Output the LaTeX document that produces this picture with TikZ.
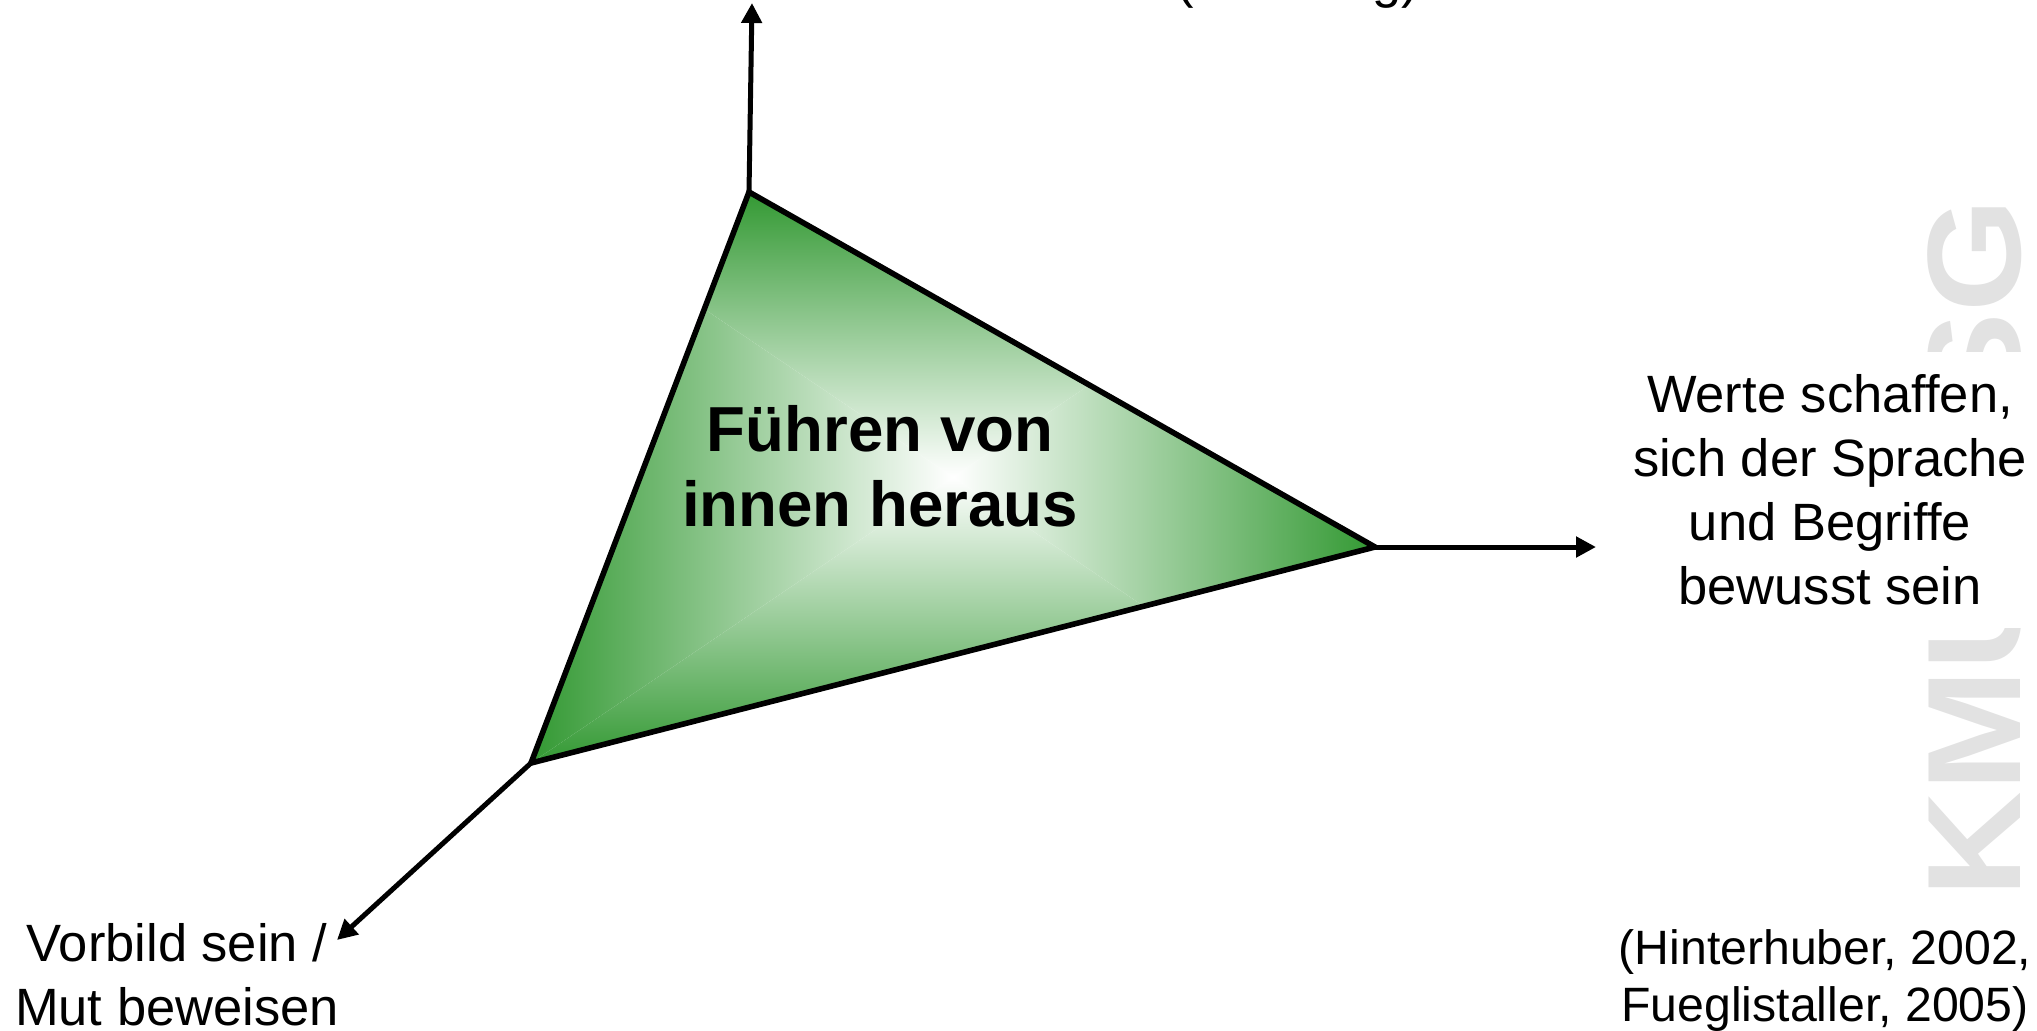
\documentclass[tikz,border=0pt]{standalone}
\usepackage{fontspec}
\setmainfont{Liberation Sans}
\usetikzlibrary{arrows.meta}
\definecolor{tgreen}{RGB}{51,153,51}
\definecolor{wmgray}{RGB}{226,226,226}
\colorlet{tmid}{tgreen!58!white}
\begin{document}
\begin{tikzpicture}[x=0.5pt,y=-0.5pt,
  axisarrow/.style={line width=2.5pt,-{Triangle[length=10pt,width=10pt]}},
  lbl/.style={align=center,inner sep=0pt,anchor=base,font=\fontsize{26.25}{31.85}\selectfont},
  cite/.style={align=center,inner sep=0pt,anchor=base,font=\fontsize{24.1}{28.5}\selectfont},
  title/.style={align=center,inner sep=0pt,anchor=base,font=\bfseries\fontsize{31.8}{37.5}\selectfont},
  wm/.style={inner sep=0pt,anchor=base west,rotate=90,text=wmgray,font=\bfseries\fontsize{66.5}{70}\selectfont}]
\useasboundingbox (0,0) rectangle (2037,1030);
% watermark
\node[wm] (wmark) at (2020,898) {\scalebox{1.1}[1]{KMU-HSG}};
\fill[white] (1600,352) rectangle (2037,628);
% vertices
\coordinate (T) at (749,192);
\coordinate (R) at (1375,547);
\coordinate (L) at (531,763);
\coordinate (C) at (953,477);
\coordinate (Tup) at (752,3);
\coordinate (Rend) at (1596,547);
\coordinate (Lend) at (337,940);
% rectangular gradient fill
\begin{scope}
\clip (T) -- (R) -- (L) -- cycle;
\begin{scope}
\clip (C) -- (531,192) -- (1375,192) -- cycle;
\shade[top color=tgreen,middle color=tmid,bottom color=white] (531,192) rectangle (1375,477);
\end{scope}
\begin{scope}
\clip (C) -- (531,763) -- (1375,763) -- cycle;
\shade[top color=white,middle color=tmid,bottom color=tgreen] (531,477) rectangle (1375,763);
\end{scope}
\begin{scope}
\clip (C) -- (531,192) -- (531,763) -- cycle;
\shade[left color=tgreen,middle color=tmid,right color=white] (531,192) rectangle (953,763);
\end{scope}
\begin{scope}
\clip (C) -- (1375,192) -- (1375,763) -- cycle;
\shade[left color=white,middle color=tmid,right color=tgreen] (953,192) rectangle (1375,763);
\end{scope}
\end{scope}
\draw[line width=2.8pt,line join=miter] (T) -- (R) -- (L) -- cycle;
% axes
\draw[axisarrow] (T) -- (Tup);
\draw[axisarrow] (R) -- (Rend);
\draw[axisarrow] (L) -- (Lend);
% texts (anchor base = baseline of the last line)
\node[title] (center) at (880,526) {Führen von\\innen heraus};
\node[lbl] (toplbl) at (1298,-3) {(Richtung)};
\node[lbl] (rightlbl) at (1830,604) {Werte schaffen,\\sich der Sprache\\und Begriffe\\bewusst sein};
\node[lbl] (leftlbl) at (177,1025) {Vorbild sein /\\Mut beweisen};
\node[cite] (source) at (1825,1021) {(Hinterhuber, 2002,\\Fueglistaller, 2005)};
\end{tikzpicture}
\end{document}
